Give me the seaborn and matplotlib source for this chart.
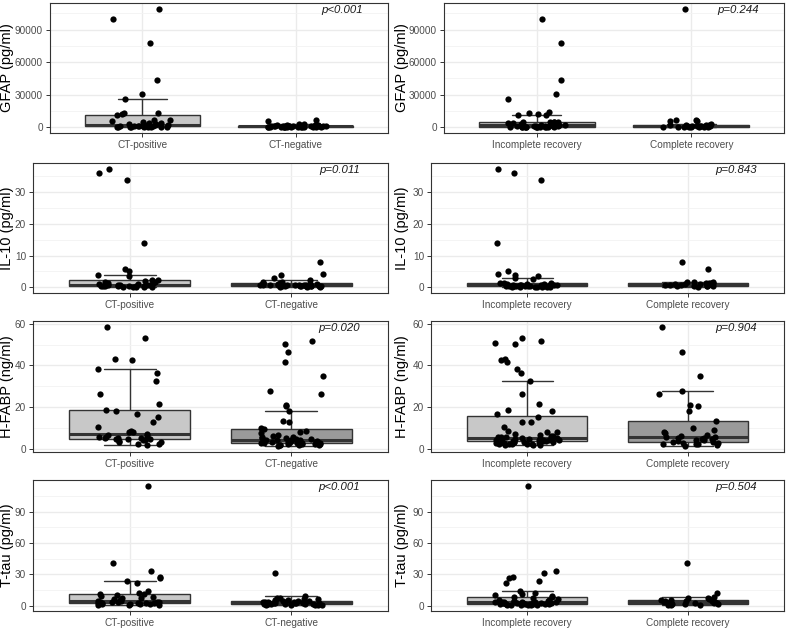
import numpy as np
import pandas as pd
import matplotlib
matplotlib.use("Agg")
import matplotlib.pyplot as plt
import seaborn as sns
from matplotlib.ticker import FixedLocator, MultipleLocator

# ---------------- data ----------------
ct_groups = ["CT-positive", "CT-negative"]
rec_groups = ["Incomplete recovery", "Complete recovery"]

gfap_ct_pos = [109000, 100000, 78000, 43500, 30500, 26000, 13500, 13000, 12500, 11000,
               7000, 6500, 6000, 5000, 4000, 3500, 3000, 2500, 2200, 2000, 1800, 1500,
               1200, 1100, 1000, 900, 800, 700, 600, 600, 500, 400, 300, 250, 200, 150, 100]
gfap_ct_neg = [7000, 5500, 3000, 2500, 2200, 2000, 1800, 1600, 1500, 1400, 1300, 1200,
               1100, 1000, 950, 900, 850, 800, 750, 700, 650, 600, 550, 500, 450, 400,
               350, 300, 280, 250, 220, 200, 180, 150, 120, 100, 80]
gfap_incomplete = [100000, 78000, 43500, 30500, 26000, 13500, 13000, 12500, 11500, 11000,
                   5000, 5000, 4800, 4700, 4500, 4200, 4000, 3500, 3000, 2500, 2000, 1800,
                   1500, 1200, 1000, 900, 800, 700, 600, 500, 450, 400, 350, 300, 250, 200,
                   150, 120, 100, 80, 60, 50, 30]
gfap_complete = [109000, 6500, 6200, 6000, 5800, 2500, 2200, 2000, 1800, 1500, 1300, 1200,
                 1000, 900, 800, 700, 600, 500, 400, 300, 250, 200, 150, 100, 80]

il10_ct_pos = [37.2, 35.8, 33.6, 13.8, 5.8, 5.3, 3.8, 3.5, 2.3, 2.2, 2.0, 1.8, 1.6, 1.5,
               1.3, 1.2, 1.0, 0.9, 0.8, 0.8, 0.7, 0.6, 0.6, 0.5, 0.5, 0.4, 0.4, 0.35, 0.3,
               0.3, 0.25, 0.2, 0.2, 0.15, 0.1]
il10_ct_neg = [8.1, 4.1, 4.0, 3.0, 2.2, 1.8, 1.6, 1.5, 1.4, 1.3, 1.2, 1.1, 1.0, 1.0, 0.9,
               0.9, 0.8, 0.8, 0.8, 0.7, 0.7, 0.7, 0.6, 0.6, 0.6, 0.5, 0.5, 0.5, 0.5, 0.4,
               0.4, 0.4, 0.3, 0.3, 0.3, 0.2, 0.2, 0.1]
il10_incomplete = [37.2, 35.8, 33.6, 13.8, 5.3, 4.1, 3.9, 3.5, 2.9, 2.5, 1.5, 1.4, 1.3, 1.2,
                   1.1, 1.0, 1.0, 0.9, 0.9, 0.8, 0.8, 0.7, 0.7, 0.6, 0.6, 0.5, 0.5, 0.5,
                   0.4, 0.4, 0.35, 0.3, 0.3, 0.3, 0.25, 0.2, 0.2, 0.2, 0.15, 0.1, 0.1]
il10_complete = [8.1, 5.8, 1.8, 1.7, 1.6, 1.5, 1.5, 1.4, 1.3, 1.2, 1.1, 1.0, 0.9, 0.8, 0.7,
                 0.6, 0.5, 0.5, 0.4, 0.3, 0.3, 0.2]

hfabp_ct_pos = [58.4, 53.2, 43.3, 42.6, 38.2, 36.2, 32.5, 26.5, 21.6, 18.5, 18.2, 16.9, 15.5,
                13.1, 10.4, 8.7, 8.4, 8.3, 7.1, 7.0, 6.5, 5.8, 5.6, 5.5, 5.3, 5.2, 5.0, 4.9,
                4.7, 4.5, 4.2, 4.0, 3.6, 3.5, 2.7, 2.6, 1.9]
hfabp_ct_neg = [51.5, 50.3, 46.5, 41.5, 35.2, 27.8, 26.2, 21.0, 20.8, 18.3, 13.5, 13.1, 10.3,
                9.8, 8.7, 8.1, 7.6, 7.0, 6.5, 6.0, 5.8, 5.5, 5.2, 5.0, 4.8, 4.6, 4.5, 4.4,
                4.3, 4.2, 4.0, 3.9, 3.8, 3.6, 3.5, 3.4, 3.3, 3.2, 3.1, 3.0, 2.9, 2.9, 2.8,
                2.7, 2.6, 2.5, 2.4, 2.3, 2.2, 2.1, 2.0, 1.8, 1.5]
hfabp_incomplete = [53.2, 51.6, 50.8, 50.2, 43.3, 42.6, 41.5, 38.2, 36.2, 32.5, 26.5, 21.6,
                    18.5, 18.2, 16.9, 15.5, 13.1, 13.0, 10.4, 8.7, 8.4, 8.3, 7.1, 6.8, 6.5,
                    6.2, 6.0, 5.9, 5.8, 5.6, 5.5, 5.3, 5.2, 5.0, 4.9, 4.8, 4.6, 4.5, 4.4,
                    4.3, 4.2, 4.1, 4.0, 3.9, 3.7, 3.6, 3.5, 3.4, 3.3, 3.1, 3.0, 2.8, 2.7,
                    2.6, 2.5, 2.4, 2.3, 2.2, 2.0, 1.8]
hfabp_complete = [58.4, 46.6, 35.2, 27.6, 26.2, 20.9, 20.7, 18.3, 13.4, 10.3, 9.0, 8.0, 7.8,
                  7.0, 6.5, 6.0, 5.8, 5.5, 5.2, 5.0, 4.8, 4.5, 4.2, 4.0, 3.5, 3.2, 3.0, 2.8,
                  2.6, 2.5, 2.3, 2.0, 1.5]

tau_ct_pos = [114.5, 40.5, 33.0, 27.5, 26.0, 23.5, 22.0, 14.0, 12.5, 11.5, 11.0, 10.5, 9.5,
              8.5, 7.5, 7.0, 6.0, 5.0, 4.5, 4.0, 3.5, 3.5, 3.2, 3.0, 3.0, 2.5, 2.5, 2.2,
              2.0, 2.0, 1.8, 1.5, 1.5, 1.2, 1.0, 0.8, 0.5]
tau_ct_neg = [31.0, 8.8, 7.5, 7.3, 6.5, 6.0, 5.5, 5.0, 4.8, 4.5, 4.2, 4.0, 3.8, 3.5, 3.3,
              3.0, 3.0, 2.8, 2.5, 2.5, 2.3, 2.2, 2.0, 2.0, 1.8, 1.8, 1.6, 1.5, 1.5, 1.3,
              1.2, 1.0, 1.0, 0.8, 0.6, 0.5]
tau_incomplete = [114.5, 33.0, 31.0, 27.5, 26.5, 23.5, 22.0, 14.0, 12.5, 11.5, 10.5, 9.0,
                  8.5, 8.0, 7.5, 6.5, 5.5, 5.0, 4.5, 4.2, 4.0, 3.8, 3.5, 3.3, 3.2, 3.0, 3.0,
                  2.8, 2.7, 2.5, 2.5, 2.3, 2.2, 2.0, 2.0, 1.8, 1.6, 1.5, 1.5, 1.3, 1.2, 1.1,
                  1.0, 1.0, 0.8, 0.7, 0.6, 0.5]
tau_complete = [40.5, 12.5, 8.0, 7.5, 7.0, 6.0, 5.5, 5.0, 4.5, 4.2, 4.0, 3.5, 3.2, 3.0, 2.8,
                2.5, 2.2, 2.0, 1.8, 1.5, 1.2, 1.0, 0.8, 0.5]

y_labels = ["GFAP (pg/ml)", "IL-10 (pg/ml)", "H-FABP (ng/ml)", "T-tau (pg/ml)"]
y_ticks = [[0, 30000, 60000, 90000], [0, 10, 20, 30], [0, 20, 40, 60], [0, 30, 60, 90]]
p_ct = ["p<0.001", "p=0.011", "p=0.020", "p<0.001"]
p_rec = ["p=0.244", "p=0.843", "p=0.904", "p=0.504"]

ct_data = [(gfap_ct_pos, gfap_ct_neg), (il10_ct_pos, il10_ct_neg),
           (hfabp_ct_pos, hfabp_ct_neg), (tau_ct_pos, tau_ct_neg)]
rec_data = [(gfap_incomplete, gfap_complete), (il10_incomplete, il10_complete),
            (hfabp_incomplete, hfabp_complete), (tau_incomplete, tau_complete)]

# ---------------- style ----------------
sns.set_theme(style="white")
plt.rcParams["font.family"] = ["Liberation Sans", "DejaVu Sans"]

box_colors = ["#c8c8c8", "#9a9a9a"]
W, H = 788, 629
fig = plt.figure(figsize=(W / 100, H / 100), dpi=100)


def add_ax(l, t, r, b):
    return fig.add_axes([l / W, 1 - b / H, (r - l) / W, (b - t) / H])


rows_tb = [(3, 133), (163, 293), (321, 452), (480, 611)]
left_cols = [(50, 388), (33, 388), (33, 388), (33, 388)]
right_cols = [(444, 784), (431, 784), (431, 784), (431, 784)]
label_x = [14, 409]
seeds_ct = [10, 11, 12, 13]
seeds_rec = [20, 21, 1, 23]


def draw(ax, groups, pair, ylabel, ticks, ptxt, seed, lab_px, top, bottom):
    df = pd.DataFrame({
        "group": [groups[0]] * len(pair[0]) + [groups[1]] * len(pair[1]),
        "value": list(pair[0]) + list(pair[1]),
    })
    sns.boxplot(data=df, x="group", y="value", order=groups, hue="group",
                hue_order=groups, palette=box_colors, saturation=1, width=0.75,
                whis=1.5, showfliers=False, linecolor="#333333", linewidth=1.0,
                medianprops={"linewidth": 2.2, "color": "#333333"},
                capwidths=0.32, legend=False, ax=ax)
    np.random.seed(seed)
    sns.stripplot(data=df, x="group", y="value", order=groups, color="black",
                  size=4.5, jitter=0.2, linewidth=0, ax=ax, zorder=5)
    vmin, vmax = df["value"].min(), df["value"].max()
    rng = vmax - vmin
    ax.set_ylim(vmin - 0.05 * rng, vmax + 0.05 * rng)
    ax.set_xlim(-0.6, 1.6)
    ax.yaxis.set_major_locator(FixedLocator(ticks))
    step = ticks[1] - ticks[0]
    ax.yaxis.set_minor_locator(MultipleLocator(step / 2))
    ax.set_axisbelow(True)
    ax.grid(which="major", axis="both", color="#ebebeb", linewidth=1.0)
    ax.grid(which="minor", axis="y", color="#f3f3f3", linewidth=0.6)
    for s in ax.spines.values():
        s.set_color("#333333")
        s.set_linewidth(0.8)
        s.set_visible(True)
    ax.tick_params(axis="both", which="major", length=3, width=0.7, color="#333333",
                   labelcolor="#4d4d4d", labelsize=7.2, pad=2, left=True, bottom=True)
    ax.tick_params(axis="y", which="minor", length=0)
    ax.set_xlabel("")
    ax.set_ylabel(ylabel, fontsize=10.5, color="black")
    ax.yaxis.set_label_coords(lab_px / W, 1 - (top + bottom) / 2 / H,
                              transform=fig.transFigure)
    ax.text(1.3, vmax - 0.01 * rng, ptxt, style="italic", fontsize=8.2, ha="center",
            va="center", color="#1a1a1a")


for i in range(4):
    t, b = rows_tb[i]
    axl = add_ax(left_cols[i][0], t, left_cols[i][1], b)
    draw(axl, ct_groups, ct_data[i], y_labels[i], y_ticks[i], p_ct[i], seeds_ct[i],
         label_x[0], t, b)
    axr = add_ax(right_cols[i][0], t, right_cols[i][1], b)
    draw(axr, rec_groups, rec_data[i], y_labels[i], y_ticks[i], p_rec[i], seeds_rec[i],
         label_x[1], t, b)

fig.savefig("out.png", dpi=100, facecolor="white")
